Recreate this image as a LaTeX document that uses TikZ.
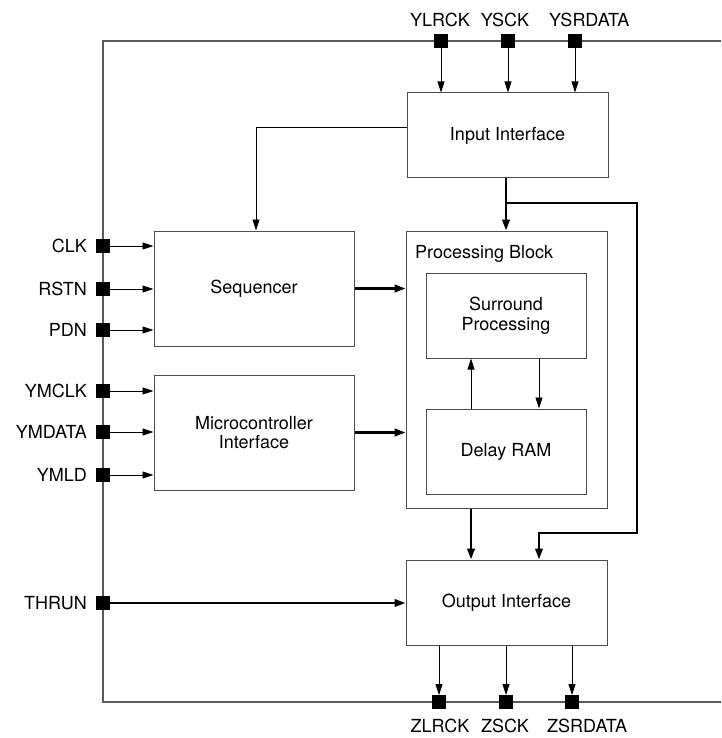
\documentclass[tikz,border=0pt]{standalone}
\usepackage{fontspec}
\setmainfont{TeX Gyre Heros}
\usetikzlibrary{arrows.meta,calc}
\begin{document}
\begin{tikzpicture}[x=1pt,y=-1pt,
  every node/.style={font=\fontsize{18}{19.5}\selectfont},
  blk/.style={draw=black!70,line width=1pt,fill=white,minimum width=#1},
  pin/.style={fill=black,minimum size=13.5pt,inner sep=0pt},
  frame/.style={draw=black!65,line width=1.1pt},
  thin/.style={draw=black,line width=0.9pt,-{Triangle[length=11pt,width=7pt]}},
  thick/.style={draw=black,line width=2.4pt,-{Triangle[length=11pt,width=7.5pt]}},
  lbl/.style={inner sep=0pt}
]
\useasboundingbox (0,0) rectangle (721,738);
% frame
\draw[frame] (721,41) -- (103,41) -- (103,702) -- (721,702);
% blocks
\node[blk=201pt,minimum height=85pt] (inp) at (507.5,135.5) {Input Interface};
\node[blk=200pt,minimum height=115pt] (seq) at (254,288.5) {Sequencer};
\node[blk=200pt,minimum height=115pt,align=center] (mcu) at (254,432.5) {Microcontroller\\Interface};
\node[blk=201pt,minimum height=277pt] (pb) at (506.5,369.5) {};
\node[lbl,anchor=west] (pbl) at (415,254) {Processing Block};
\node[blk=160pt,minimum height=85pt,align=center] (sur) at (506,315.5) {Surround\\Processing};
\node[blk=160pt,minimum height=85pt] (ram) at (506,451.5) {Delay RAM};
\node[blk=201pt,minimum height=85pt] (out) at (506.5,602.5) {Output Interface};
% top pins
\foreach \n/\x in {ylrck/441, ysck/508, ysrdata/575}{
  \node[pin] (\n) at (\x,41) {};
  \draw[thin] (\n.south) -- (\n.south |- inp.north);
}
\node[lbl] (ylrckl) at (440,19.5) {YLRCK};
\node[lbl] (ysckl) at (505,19.5) {YSCK};
\node[lbl,anchor=west] (ysrdatal) at (549,19.5) {YSRDATA};
% bottom pins
\foreach \n/\x in {zlrck/439, zsck/506, zsrdata/572}{
  \node[pin] (\n) at (\x,702) {};
  \draw[thin] (\n.north |- out.south) -- (\n.north);
}
\node[lbl] (zlrckl) at (440,726) {ZLRCK};
\node[lbl] (zsckl) at (505,726) {ZSCK};
\node[lbl,anchor=west] (zsrdatal) at (547,726) {ZSRDATA};
% left pins
\foreach \n/\y/\t/\tg in {clk/246/CLK/seq, rstn/289/RSTN/seq, pdn/330/PDN/seq,
  ymclk/391/YMCLK/mcu, ymdata/432/YMDATA/mcu, ymld/475/YMLD/mcu}{
  \node[pin] (\n) at (103,\y) {};
  \node[lbl,anchor=east] (\n l) at (87,\y) {\t};
  \draw[thin] (\n.east) -- (\n.east -| \tg.west);
}
\node[pin] (thrun) at (103,603) {};
\node[lbl,anchor=east] (thrunl) at (87,603) {THRUN};
\draw[thick] (thrun.east) -- (thrun.east -| out.west);
% internal connections
\draw[thin] ([yshift=8.5pt]inp.west) -| ([xshift=2pt]seq.north);
\draw[thick] (seq.east) -- (seq.east -| pb.west);
\draw[thick] (mcu.east) -- (mcu.east -| pb.west);
\draw[thick] ([xshift=-1.5pt]inp.south) -- ([xshift=-1.5pt]inp.south |- pb.north);
\coordinate (br) at ([xshift=-1.5pt]inp.south |- 0,203);
\draw[thick] (br) -- (637,203) -- (637,533) -- ([xshift=32.5pt]out.north |- 0,533) -- ([xshift=32.5pt]out.north);
\draw[thick] ([xshift=-35.5pt]pb.south) -- ([xshift=-35.5pt]out.north);
\draw[thin] ([xshift=-35pt]ram.north) -- ([xshift=-35pt]sur.south);
\draw[thin] ([xshift=33pt]sur.south) -- ([xshift=33pt]ram.north);
\end{tikzpicture}
\end{document}
